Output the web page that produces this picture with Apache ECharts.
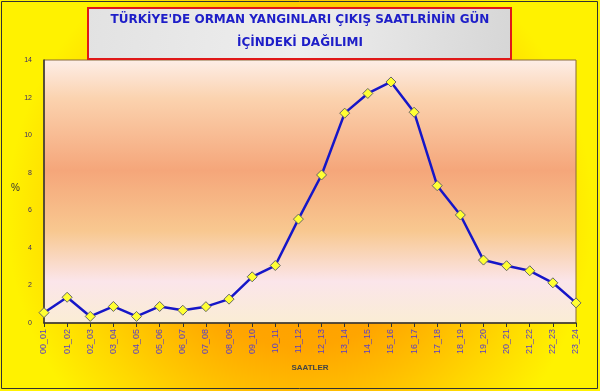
<!DOCTYPE html>
<html>
<head>
<meta charset="utf-8">
<script src="https://cdn.jsdelivr.net/npm/echarts@6/dist/echarts.min.js"></script>
<style>html,body{margin:0;padding:0;background:#fff}#c{width:600px;height:391px}</style>
</head>
<body>
<div id="c"></div>
<script>
var categories = ['00_01','01_02','02_03','03_04','04_05','05_06','06_07','07_08','08_09','09_10','10_11','11_12','12_13','13_14','14_15','15_16','16_17','17_18','18_19','19_20','20_21','21_22','22_23','23_24'];
var percentValues = [0.55, 1.37, 0.35, 0.88, 0.35, 0.88, 0.68, 0.87, 1.27, 2.46, 3.06, 5.53, 7.88, 11.17, 12.22, 12.83, 11.22, 7.31, 5.75, 3.35, 3.05, 2.78, 2.14, 1.07];
var titleLines = ["TÜRKİYE'DE ORMAN YANGINLARI ÇIKIŞ SAATLRİNİN GÜN", "İÇİNDEKİ DAĞILIMI"];
var xAxisName = 'SAATLER';
var yAxisName = '%';

var chart = echarts.init(document.getElementById('c'));
chart.setOption({
  animation: false,
  backgroundColor: new echarts.graphic.RadialGradient(0.5, 0.55, 0.75, [
    {offset: 0, color: '#ff9500'},
    {offset: 0.45, color: '#ffa500'},
    {offset: 0.8, color: '#ffd800'},
    {offset: 1, color: '#fff200'}
  ]),
  graphic: [
    {type: 'rect', silent: true, z: 100, shape: {x: 1.5, y: 1.5, width: 596, height: 387},
     style: {fill: null, stroke: '#333', lineWidth: 1}},
    {type: 'rect', z: 100, shape: {x: 88, y: 8, width: 423, height: 51},
     style: {fill: new echarts.graphic.LinearGradient(0, 0, 1, 1, [
       {offset: 0, color: '#e2e2e2'}, {offset: 0.5, color: '#eeeeee'}, {offset: 1, color: '#d6d6d6'}]),
       stroke: '#e01818', lineWidth: 2}},
    {type: 'text', z: 101, left: 'center', top: 14,
     style: {text: titleLines[0], font: 'bold 12px "DejaVu Sans", sans-serif', fill: '#1e1ec8', textAlign: 'center'}},
    {type: 'text', z: 101, left: 'center', top: 37,
     style: {text: titleLines[1], font: 'bold 12px "DejaVu Sans", sans-serif', fill: '#1e1ec8', textAlign: 'center'}},
    {type: 'text', z: 101, left: 11, top: 183,
     style: {text: yAxisName, font: '10px "Liberation Sans", Arial, sans-serif', fill: '#333'}}
  ],
  grid: {
    left: 44, right: 24, top: 60, bottom: 68,
    show: true,
    borderColor: '#8a6a3a', borderWidth: 1,
    backgroundColor: new echarts.graphic.LinearGradient(0, 0, 0, 1, [
      {offset: 0, color: '#fdeee8'},
      {offset: 0.15, color: '#fbd2ae'},
      {offset: 0.42, color: '#f5a67a'},
      {offset: 0.65, color: '#f8c890'},
      {offset: 0.84, color: '#fbe5ea'},
      {offset: 1, color: '#faedd4'}
    ])
  },
  xAxis: {
    type: 'category',
    data: categories,
    boundaryGap: false,
    name: xAxisName,
    nameLocation: 'middle',
    nameGap: 41,
    nameTextStyle: {fontSize: 8, fontWeight: 'bold', color: '#444', fontFamily: 'Liberation Sans, Arial, sans-serif'},
    axisLine: {lineStyle: {color: '#333', width: 1.5}},
    axisTick: {alignWithLabel: true, length: 4, lineStyle: {color: '#333'}},
    axisLabel: {rotate: 90, fontSize: 9, color: '#5a3ec8', margin: 6, interval: 0, fontFamily: 'Liberation Sans, Arial, sans-serif'},
    splitLine: {show: false}
  },
  yAxis: {
    type: 'value',
    min: 0, max: 14, interval: 2,
    axisLine: {show: true, lineStyle: {color: '#333', width: 1.5}},
    axisTick: {show: false},
    axisLabel: {fontSize: 7, color: '#3a2a6a', margin: 12, fontFamily: 'Liberation Sans, Arial, sans-serif'},
    splitLine: {show: false}
  },
  series: [{
    type: 'line',
    data: percentValues,
    symbol: 'diamond',
    symbolSize: 10,
    lineStyle: {color: '#1616c8', width: 2.5},
    itemStyle: {color: '#ffff33', borderColor: '#666', borderWidth: 1},
    z: 5
  }]
});
</script>
</body>
</html>
